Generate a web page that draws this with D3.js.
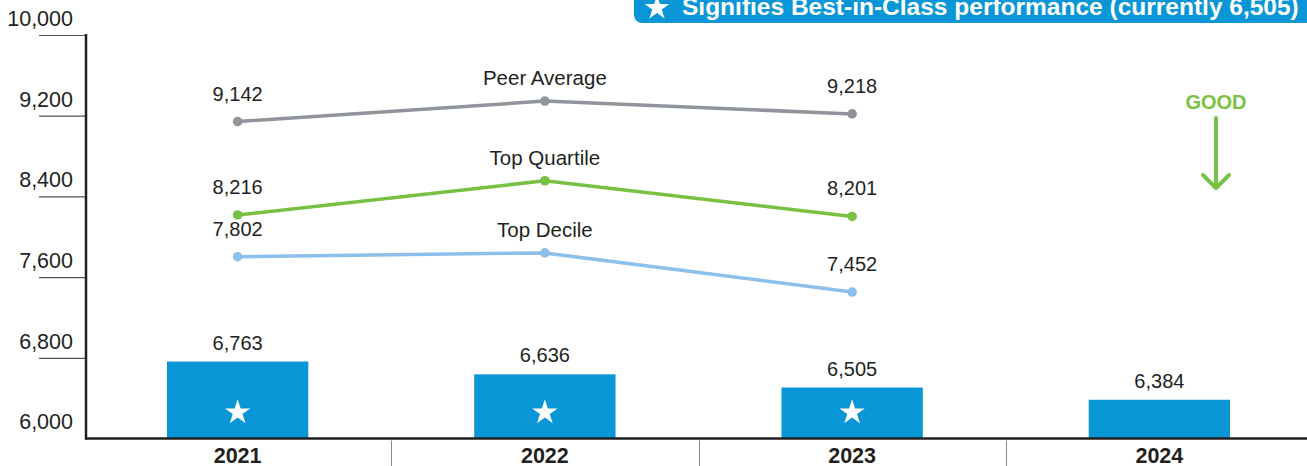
<!DOCTYPE html>
<html>
<head>
<meta charset="utf-8">
<script src="https://cdn.jsdelivr.net/npm/d3@7"></script>
<style>
  html, body { margin: 0; padding: 0; background: #fff; }
  svg { display: block; font-family: "Liberation Sans", Arial, Helvetica, sans-serif; }
</style>
</head>
<body>
<svg id="chart" width="1307" height="466"></svg>
<script>
// ---- data ----
const years = ["2021", "2022", "2023", "2024"];
const companyValues = [6763, 6636, 6505, 6384];
const bestInClass = [true, true, true, false];
const lineYears = ["2021", "2022", "2023"];
const peerAverage = [9142, 9345, 9218];
const topQuartile = [8216, 8555, 8201];
const topDecile = [7802, 7840, 7452];
const seriesNames = ["Peer Average", "Top Quartile", "Top Decile"];
const labelledYears = ["2021", "2023"];
const yTicks = [6000, 6800, 7600, 8400, 9200, 10000];
const bannerText = "Signifies Best-in-Class performance (currently 6,505)";
const goodText = "GOOD";

// ---- styles ----
const textColor = "#231f20";
const barColor = "#0896d7";
const seriesColors = ["#8f949a", "#78c142", "#8cbfe9"];
const goodColor = "#7ac143";
const fontFamily = "Liberation Sans, Arial, sans-serif";

const svg = d3.select("#chart");

const x = d3.scaleBand().domain(years).range([84, 1313]).paddingInner(0).paddingOuter(0);
const y = d3.scaleLinear().domain([6000, 10000]).range([438.5, 35]);
const barWidth = x.bandwidth() * 0.46;
const axisX = 86;

// ---- y axis ----
const yAxis = svg.append("g")
  .attr("transform", `translate(${axisX},0)`)
  .call(d3.axisLeft(y).tickValues(yTicks).tickSize(47).tickFormat(d3.format(",")));
yAxis.select(".domain").remove();
yAxis.attr("font-size", null).attr("font-family", null);
yAxis.selectAll(".tick line")
  .attr("stroke", "#555")
  .attr("stroke-width", 1.2)
  .attr("opacity", d => d === 6000 ? 0 : 1);
yAxis.selectAll(".tick text")
  .attr("x", -13)
  .attr("dy", "-0.45em")
  .attr("fill", textColor)
  .attr("font-size", 21.5)
  .attr("font-family", fontFamily);

// ---- bars ----
svg.append("g").selectAll("rect")
  .data(years)
  .join("rect")
  .attr("x", (d) => x(d) + x.bandwidth() / 2 - barWidth / 2)
  .attr("width", barWidth)
  .attr("y", (d, i) => y(companyValues[i]))
  .attr("height", (d, i) => y(6000) - y(companyValues[i]))
  .attr("fill", barColor);

// bar value labels
svg.append("g").selectAll("text")
  .data(years)
  .join("text")
  .attr("x", d => x(d) + x.bandwidth() / 2)
  .attr("y", (d, i) => y(companyValues[i]) - 12)
  .attr("text-anchor", "middle")
  .attr("font-size", 20)
  .attr("fill", textColor)
  .text((d, i) => d3.format(",")(companyValues[i]));

// stars inside bars
const starPath = d3.symbol().type(d3.symbolStar).size(200)();
svg.append("g").selectAll("path")
  .data(years.filter((d, i) => bestInClass[i]))
  .join("path")
  .attr("d", starPath)
  .attr("transform", d => `translate(${x(d) + x.bandwidth() / 2},${y(6000) - 26})`)
  .attr("fill", "#fff");

// ---- axes lines ----
svg.append("line")
  .attr("x1", axisX).attr("x2", axisX)
  .attr("y1", y(10000) - 1).attr("y2", y(6000) + 1)
  .attr("stroke", textColor).attr("stroke-width", 2.5);
svg.append("line")
  .attr("x1", axisX - 1).attr("x2", 1307)
  .attr("y1", y(6000)).attr("y2", y(6000))
  .attr("stroke", textColor).attr("stroke-width", 2.5);

// separators between categories
svg.append("g").selectAll("line")
  .data(years.slice(1))
  .join("line")
  .attr("x1", d => Math.round(x(d)) + 0.5).attr("x2", d => Math.round(x(d)) + 0.5)
  .attr("y1", y(6000) + 2).attr("y2", 466)
  .attr("stroke", "#8a8a8a").attr("stroke-width", 1);

// x axis labels
const xAxis = svg.append("g")
  .attr("transform", `translate(0,${y(6000)})`)
  .call(d3.axisBottom(x).tickSize(0).tickPadding(0));
xAxis.select(".domain").remove();
xAxis.attr("font-size", null).attr("font-family", null);
xAxis.selectAll(".tick text")
  .attr("y", 24.5)
  .attr("dy", 0)
  .attr("font-size", 21.5)
  .attr("font-weight", "bold")
  .attr("font-family", fontFamily)
  .attr("fill", textColor);

// ---- lines ----
const allSeries = [peerAverage, topQuartile, topDecile];
const cx = d => x(d) + x.bandwidth() / 2;
const line = d3.line().x((d, i) => cx(lineYears[i])).y(d => y(d));

allSeries.forEach((vals, s) => {
  const g = svg.append("g");
  g.append("path")
    .attr("d", line(vals))
    .attr("fill", "none")
    .attr("stroke", seriesColors[s])
    .attr("stroke-width", 3.5)
    .attr("stroke-linejoin", "round");
  g.selectAll("circle")
    .data(vals)
    .join("circle")
    .attr("cx", (d, i) => cx(lineYears[i]))
    .attr("cy", d => y(d))
    .attr("r", 4.8)
    .attr("fill", seriesColors[s]);
  // value labels at first and last year
  g.selectAll("text.val")
    .data(vals.map((v, i) => ({ v, yr: lineYears[i] })).filter(o => labelledYears.includes(o.yr)))
    .join("text")
    .attr("class", "val")
    .attr("x", o => cx(o.yr))
    .attr("y", o => y(o.v) - 21)
    .attr("text-anchor", "middle")
    .attr("font-size", 20)
    .attr("fill", textColor)
    .text(o => d3.format(",")(o.v));
  // series name above middle point
  g.append("text")
    .attr("x", cx(lineYears[1]))
    .attr("y", y(vals[1]) - 16)
    .attr("text-anchor", "middle")
    .attr("font-size", 20.5)
    .attr("fill", textColor)
    .text(seriesNames[s]);
});

// ---- banner ----
const banner = svg.append("g");
banner.append("rect")
  .attr("x", 634).attr("y", -12)
  .attr("width", 700).attr("height", 35)
  .attr("rx", 8)
  .attr("fill", barColor);
banner.append("path")
  .attr("d", d3.symbol().type(d3.symbolStar).size(190)())
  .attr("transform", "translate(657,8)")
  .attr("fill", "#fff");
banner.append("text")
  .attr("x", 682).attr("y", 15)
  .attr("font-size", 24.5)
  .attr("font-weight", "bold")
  .attr("fill", "#fff")
  .text(bannerText);

// ---- GOOD arrow ----
const good = svg.append("g");
good.append("text")
  .attr("x", 1216).attr("y", 109)
  .attr("text-anchor", "middle")
  .attr("font-size", 20)
  .attr("font-weight", "bold")
  .attr("fill", goodColor)
  .text(goodText);
good.append("line")
  .attr("x1", 1216).attr("x2", 1216)
  .attr("y1", 118).attr("y2", 187)
  .attr("stroke", goodColor).attr("stroke-width", 4).attr("stroke-linecap", "round");
good.append("polyline")
  .attr("points", "1203,175 1216,188 1229,175")
  .attr("fill", "none")
  .attr("stroke", goodColor).attr("stroke-width", 4)
  .attr("stroke-linecap", "round").attr("stroke-linejoin", "round");
</script>
</body>
</html>
